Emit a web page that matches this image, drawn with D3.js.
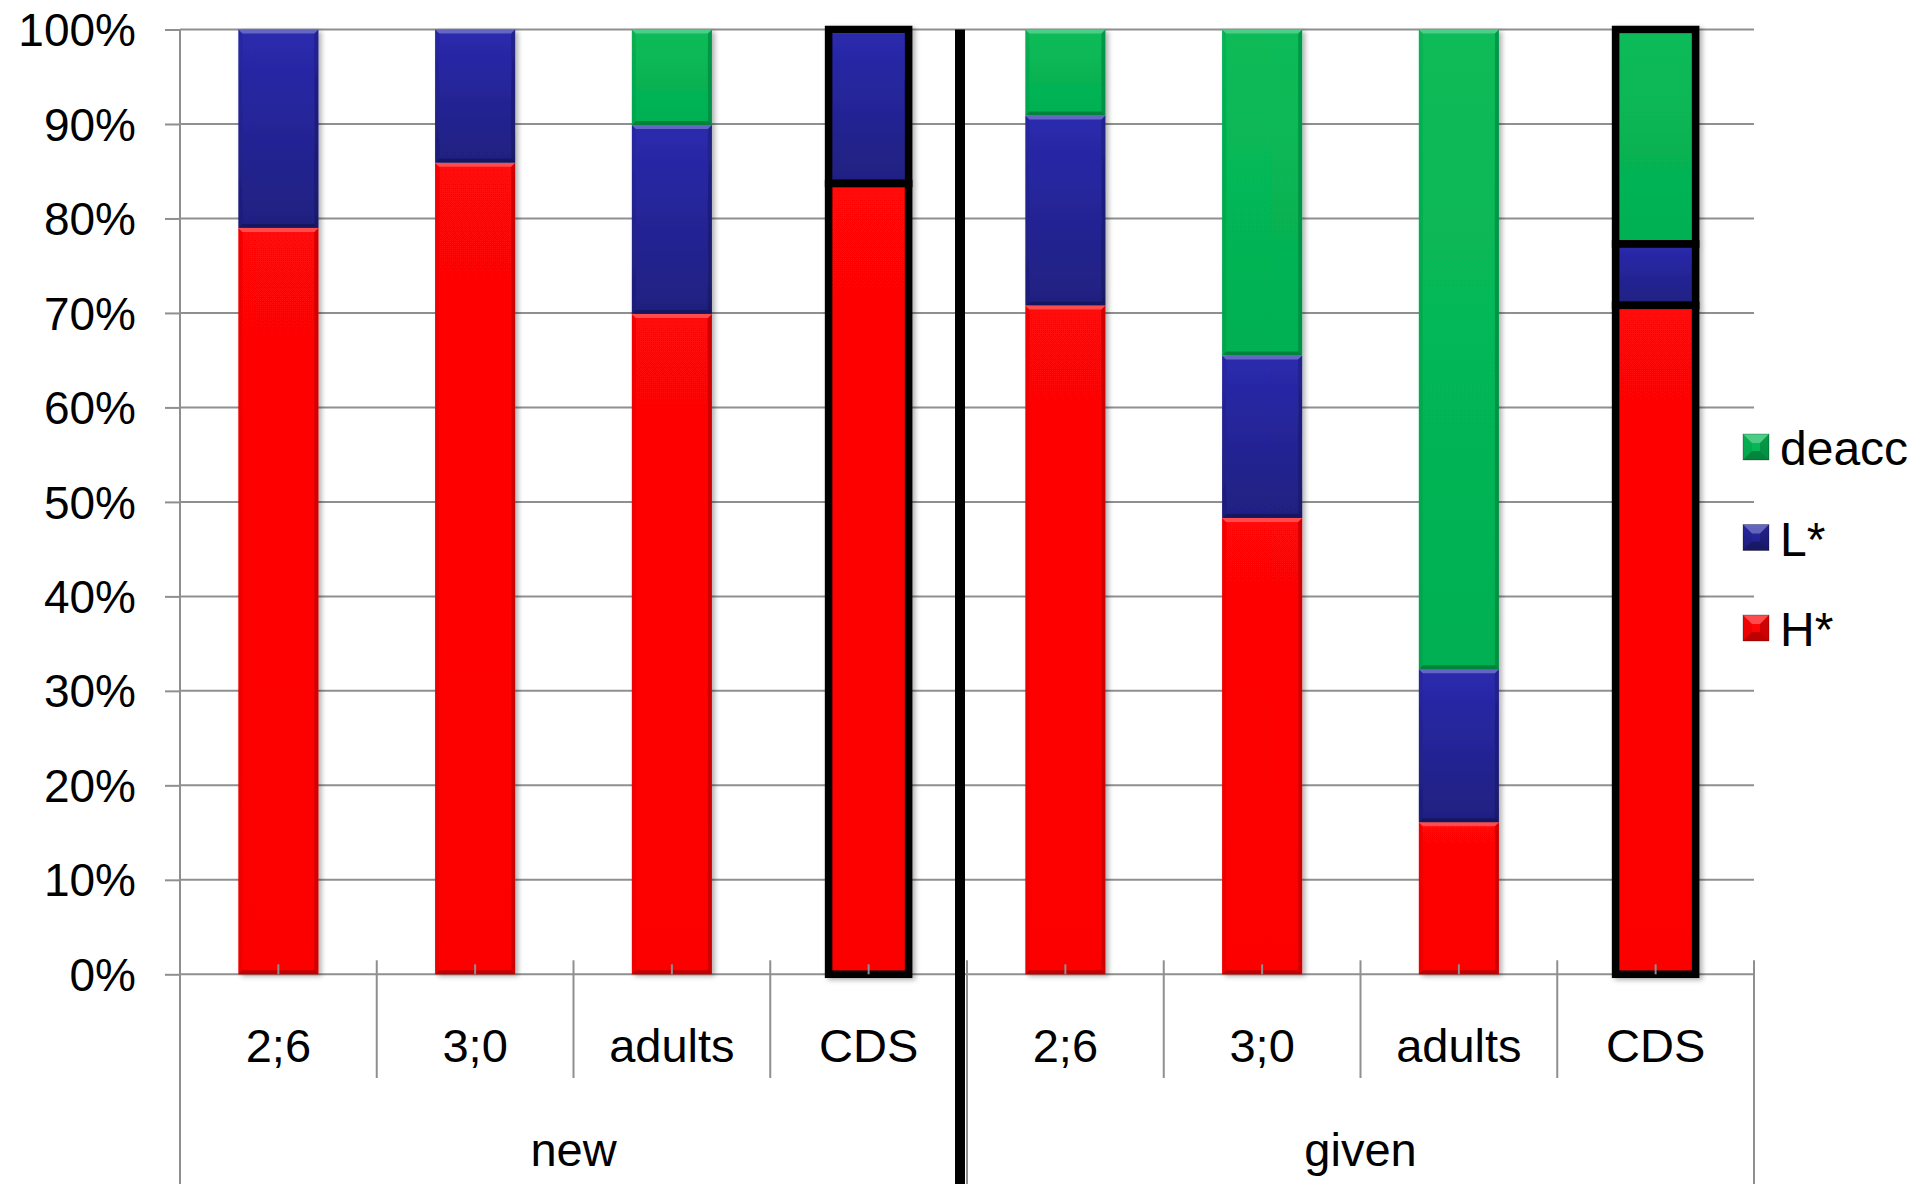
<!DOCTYPE html>
<html>
<head>
<meta charset="utf-8">
<script src="https://cdn.jsdelivr.net/npm/d3@7"></script>
<style>
  html, body { margin: 0; padding: 0; background: #fff; }
  svg { display: block; }
  text { font-family: "Liberation Sans", Arial, sans-serif; fill: #000; }
</style>
</head>
<body>
<svg id="chart" width="1917" height="1184"></svg>
<script>
// Category structure: two information-status groups, four speaker groups each
const groups = ["new", "given"];
const ages = ["2;6", "3;0", "adults", "CDS"];
const outlined = ["CDS"];

// Percentage of each accent type per bar (new 2;6 … given CDS)
const seriesNames = ["H*", "L*", "deacc"];
const hStar = [79.0, 85.9, 69.9, 83.7, 70.8, 48.3, 16.1, 70.8];
const lStar = [21.0, 14.1, 20.0, 16.3, 20.1, 17.2, 16.2, 6.5];
const deacc = [0.0, 0.0, 10.1, 0.0, 9.1, 34.5, 67.7, 22.7];

const yTicks = [0, 10, 20, 30, 40, 50, 60, 70, 80, 90, 100];
const legendOrder = ["deacc", "L*", "H*"];

const colors = { "H*": ["#ff0707", "#fc0000"], "L*": ["#2a2aae", "#1f1f80"], "deacc": ["#08bb58", "#05b052"] };

// Build the table of bars
const bars = [];
groups.forEach((g, gi) => ages.forEach((a, ai) => {
  const i = gi * ages.length + ai;
  bars.push({ id: g + "|" + a, group: g, age: a, "H*": hStar[i], "L*": lStar[i], "deacc": deacc[i] });
}));

const svg = d3.select("#chart");
const plotLeft = 180, plotRight = 1754, plotTop = 29.5, plotBottom = 974.3;
const fontSize = 46;

const x = d3.scaleBand().domain(bars.map(d => d.id)).range([plotLeft, plotRight]).paddingInner(0.593).paddingOuter(0.2965);
const y = d3.scaleLinear().domain([0, 100]).range([plotBottom, plotTop]);
const step = x.step();

const defs = svg.append("defs");
const gradId = {};
Object.entries(colors).forEach(([k, c], i) => {
  const g = defs.append("linearGradient").attr("id", "grad" + i).attr("x1", 0).attr("y1", 0).attr("x2", 0).attr("y2", 1);
  g.append("stop").attr("offset", "0%").attr("stop-color", c[0]);
  g.append("stop").attr("offset", "100%").attr("stop-color", c[1]);
  gradId[k] = "grad" + i;
});
const shadow = defs.append("filter").attr("id", "shadow").attr("x", "-20%").attr("y", "-5%").attr("width", "140%").attr("height", "110%");
shadow.append("feDropShadow").attr("dx", 3).attr("dy", 2).attr("stdDeviation", 2.5).attr("flood-color", "#000").attr("flood-opacity", 0.3);

const grey = "#8f8f8f";

// Horizontal gridlines
svg.append("g").selectAll("line").data(yTicks).join("line")
  .attr("x1", plotLeft).attr("x2", plotRight)
  .attr("y1", d => y(d)).attr("y2", d => y(d))
  .attr("stroke", grey).attr("stroke-width", 2);

// Y axis with percentage labels
const yAxis = svg.append("g").attr("transform", `translate(${plotLeft},0)`)
  .call(d3.axisLeft(y).tickValues(yTicks).tickFormat(d => d + "%").tickSizeInner(15).tickSizeOuter(0).tickPadding(29));
yAxis.select(".domain").remove();
yAxis.selectAll(".tick line").attr("stroke", grey).attr("stroke-width", 2);
yAxis.selectAll(".tick text").attr("font-size", fontSize).attr("font-family", "Liberation Sans, Arial, sans-serif").attr("fill", "#000").attr("dy", "0.35em");

// Bevelled segment drawing
function bevelled(sel, x0, y0, w, h, key, b) {
  const g = sel.append("g");
  g.append("rect").attr("x", x0).attr("y", y0).attr("width", w).attr("height", h).attr("fill", `url(#${gradId[key]})`);
  const bb = Math.min(b, h / 2, w / 2);
  g.append("path").attr("d", `M${x0},${y0}H${x0 + w}L${x0 + w - bb},${y0 + bb}H${x0 + bb}Z`).attr("fill", "#fff").attr("opacity", 0.28);
  g.append("path").attr("d", `M${x0 + w},${y0}V${y0 + h}L${x0 + w - bb},${y0 + h - bb}V${y0 + bb}Z`).attr("fill", "#000").attr("opacity", 0.18);
  g.append("path").attr("d", `M${x0},${y0 + h}H${x0 + w}L${x0 + w - bb},${y0 + h - bb}H${x0 + bb}Z`).attr("fill", "#000").attr("opacity", 0.25);
  g.append("path").attr("d", `M${x0},${y0}V${y0 + h}L${x0 + bb},${y0 + h - bb}V${y0 + bb}Z`).attr("fill", "#000").attr("opacity", 0.06);
  return g;
}

// Stacked bars
const stack = d3.stack().keys(seriesNames)(bars);
const barLayer = svg.append("g");
bars.forEach((d, i) => {
  const bg = barLayer.append("g").attr("filter", "url(#shadow)");
  stack.forEach(s => {
    const [v0, v1] = s[i];
    if (v1 - v0 <= 0) return;
    bevelled(bg, x(d.id), y(v1), x.bandwidth(), y(v0) - y(v1), s.key, 4);
  });
  if (outlined.includes(d.age)) {
    stack.forEach(s => {
      const [v0, v1] = s[i];
      if (v1 - v0 <= 0) return;
      bg.append("rect").attr("x", x(d.id)).attr("y", y(v1)).attr("width", x.bandwidth()).attr("height", y(v0) - y(v1))
        .attr("fill", "none").attr("stroke", "#000").attr("stroke-width", 7.5);
    });
  }
});

// Bottom axis: small ticks at bar centres
const xAxis = svg.append("g").attr("transform", `translate(0,${plotBottom})`)
  .call(d3.axisBottom(x).tickSizeInner(-10).tickSizeOuter(0).tickFormat(""));
xAxis.select(".domain").remove();
xAxis.selectAll(".tick line").attr("stroke", grey).attr("stroke-width", 2);

// Category separators
const boundaries = d3.range(0, bars.length + 1);
svg.append("g").selectAll("line").data(boundaries).join("line")
  .attr("x1", k => plotLeft + k * step).attr("x2", k => plotLeft + k * step)
  .attr("y1", k => (k === 0 ? plotTop : plotBottom - 14))
  .attr("y2", k => (k % ages.length === 0 ? 1184 : 1078))
  .attr("stroke", grey).attr("stroke-width", 2);

// Category labels
svg.append("g").selectAll("text").data(bars).join("text")
  .attr("x", d => x(d.id) + x.bandwidth() / 2).attr("y", 1062)
  .attr("text-anchor", "middle").attr("font-size", 47).text(d => d.age);

// Group labels
svg.append("g").selectAll("text").data(groups).join("text")
  .attr("x", (g, gi) => plotLeft + (gi * ages.length + ages.length / 2) * step).attr("y", 1166)
  .attr("text-anchor", "middle").attr("font-size", 47).text(g => g);

// Thick divider between the two groups
const divX = plotLeft + ages.length * step - 7;
svg.append("line").attr("x1", divX).attr("x2", divX).attr("y1", plotTop).attr("y2", 1184)
  .attr("stroke", "#000").attr("stroke-width", 10);

// Legend
const legend = svg.append("g");
legendOrder.forEach((k, i) => {
  const cy = 447 + i * 90.5;
  bevelled(legend, 1743, cy - 13, 26, 26, k, 9);
  legend.append("rect").attr("x", 1743).attr("y", cy - 13).attr("width", 26).attr("height", 26)
    .attr("fill", "none").attr("stroke", "#000").attr("stroke-opacity", 0.25).attr("stroke-width", 1);
  legend.append("text").attr("x", 1780).attr("y", cy + 18).attr("font-size", 48).text(k);
});
</script>
</body>
</html>
